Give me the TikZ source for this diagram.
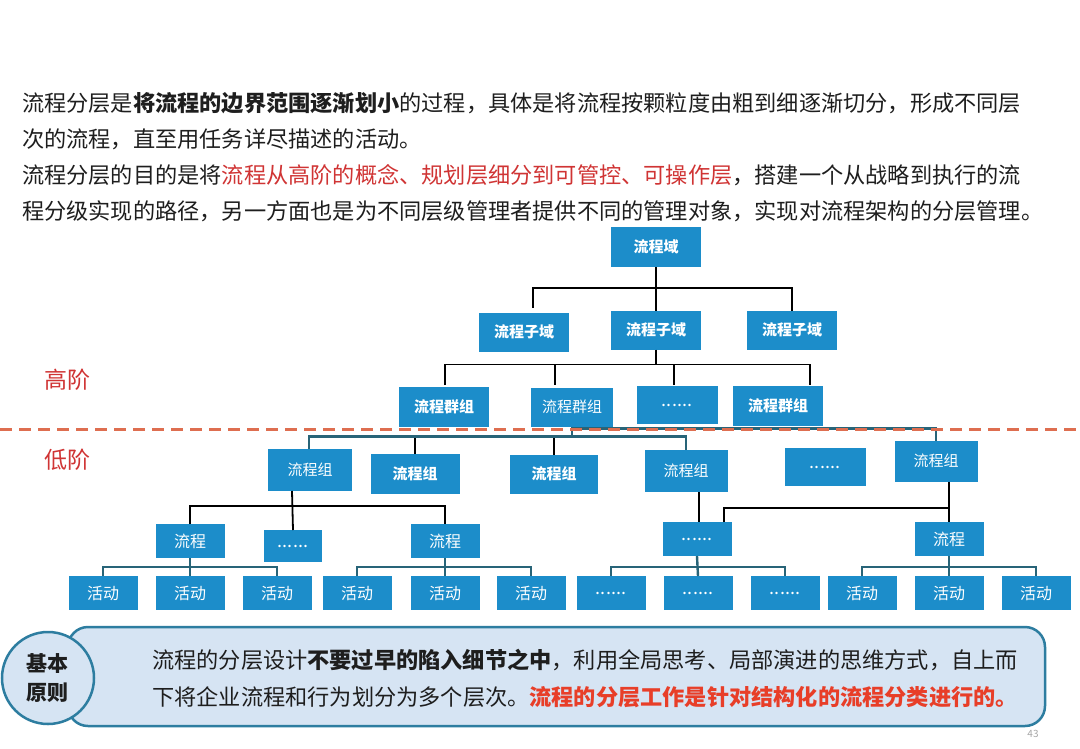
\documentclass[tikz,border=0pt]{standalone}
\usepackage{fontspec}
\setmainfont{Noto Sans CJK SC}
\usetikzlibrary{calc}
\definecolor{boxblue}{RGB}{28,141,202}
\definecolor{txt}{RGB}{30,30,30}
\definecolor{redtxt}{RGB}{208,52,52}
\definecolor{redb}{RGB}{232,62,40}
\definecolor{dashc}{RGB}{222,110,80}
\definecolor{tealc}{RGB}{40,100,120}
\definecolor{panelfill}{RGB}{214,228,243}
\definecolor{panelline}{RGB}{45,125,160}
\newcommand{\myell}{\raisebox{-2pt}{\fontsize{18}{18}\selectfont......}}
\begin{document}
\begin{tikzpicture}[x=1pt,y=-1pt,
  bx/.style 2 args={fill=boxblue,text=white,inner sep=0pt,outer sep=0pt,
     minimum width=#1,minimum height=#2,font=\fontsize{15}{18}\selectfont},
  bxb/.style 2 args={bx={#1}{#2},font=\fontsize{15}{18}\selectfont\bfseries},
  bxs/.style 2 args={bx={#1}{#2},font=\fontsize{16}{18}\selectfont},
  blk/.style={draw=black,line width=1.8pt},
  tl/.style={draw=tealc,line width=2.4pt},
  para/.style={anchor=base west,inner sep=0pt,text=txt,font=\fontsize{22.2}{26}\selectfont},
  lvl/.style={anchor=center,inner sep=0pt,text=redtxt,font=\fontsize{23}{26}\selectfont}]
\useasboundingbox[fill=white] (0,0) rectangle (1080,748);

% top paragraph
\node[para] (t1) at (22,111.5) {流程分层是\textbf{将流程的边界范围逐渐划小}的过程，具体是将流程按颗粒度由粗到细逐渐切分，形成不同层};
\node[para] (t2) at (22,147.5) {次的流程，直至用任务详尽描述的活动。};
\node[para] (t3) at (22,183.5) {流程分层的目的是将\textcolor{redtxt}{流程从高阶的概念、规划层细分到可管控、可操作层}，搭建一个从战略到执行的流};
\node[para] (t4) at (22,219.5) {程分级实现的路径，另一方面也是为不同层级管理者提供不同的管理对象，实现对流程架构的分层管理。};

% level labels
\node[lvl] (hi) at (67,380) {高阶};
\node[lvl] (lo) at (67,460) {低阶};

% tree level 0-2
\node[bxb={90}{40}] (dom) at (656,247) {流程域};
\node[bxb={90}{39}] (sA) at (524,332) {流程子域};
\node[bxb={90}{39}] (sB) at (656,330) {流程子域};
\node[bxb={90}{39}] (sC) at (792,330) {流程子域};
\node[bxb={90}{40}] (g1) at (444,407) {流程群组};
\node[bx={82}{39}] (g2) at (572,407) {流程群组};
\node[bx={81}{38}] (g3) at (677,405) {\myell};
\node[bxb={90}{40}] (g4) at (778,406) {流程群组};

% level 流程组
\node[bx={84}{42}] (pg1) at (310,470) {流程组};
\node[bxb={89}{40}] (pg2) at (415,474) {流程组};
\node[bxb={88}{39}] (pg3) at (554,474) {流程组};
\node[bx={83}{42}] (pg4) at (686,471) {流程组};
\node[bx={81}{38}] (pg5) at (825,467) {\myell};
\node[bx={83}{41}] (pg6) at (936,461) {流程组};

% level 流程
\node[bxs={69}{34}] (p1) at (190,541) {流程};
\node[bx={58}{32}] (pe1) at (293,546) {\myell};
\node[bxs={69}{34}] (p2) at (445,541) {流程};
\node[bx={69}{34}] (pe2) at (697,539) {\myell};
\node[bxs={69}{34}] (p3) at (949,539) {流程};

% activities
\foreach \n/\x/\t in {a1/103/活动,a2/190/活动,a3/277/活动,a4/357/活动,a5/445/活动,a6/531/活动,
  e1/611/\myell,e2/698/\myell,e3/785/\myell,a7/862/活动,a8/949/活动,a9/1036/活动}
  \node[bxs={69}{34}] (\n) at (\x,593) {\t};

% connectors upper
\draw[blk] (dom.south) -- ++(0,21) coordinate (b1);
\draw[blk] ($(sA.north)+(9,-5)$) |- (b1) -| (sC.north);
\draw[blk] (b1) -- (sB.north);
\draw[blk] (sB.south) -- ++(0,15) coordinate (b2);
\draw[blk] ($(g1.north)+(1,-2)$) |- (b2) -| ($(g4.north)+(32,-1)$);
\draw[blk] ($(g2.north)+(-17,-3)$) -- ($(g2.north)+(-17,-23)$);
\draw[blk] ($(g3.north)+(-3,-1)$) -- ($(g3.north)+(-3,-21)$);

% connectors crossing the divide
\draw[tl] (g2.south) -- ++(0,10) coordinate (b3);
\draw[tl] ($(pg1.north)+(-1,0)$) |- (b3) -| (pg4.north);
\draw[blk] (pg2.north) -- ($(pg2.north |- b3)+(0,1)$);
\draw[blk] (pg3.north) -- ($(pg3.north |- b3)+(0,1)$);
\draw[tl] ($(g2.south)+(0,2)$) -| (pg6.north);

% dashed divide
\draw[dashc,line width=3pt,dash pattern=on 12pt off 7pt] (0,429) -- (1080,429);

% 流程组 -> 流程
\draw[blk] ($(pg1.south)+(-18,0)$) -- (pe1.north);
\draw[blk] (p1.north) |- ($(pg1.south)+(0,15)$) -| (p2.north);
\draw[blk] ($(pg4.south)+(13,0)$) -- ($(pe2.north)+(2,0)$);
\draw[blk] ($(pe2.north)+(27,0)$) |- ($(p3.north)+(1,-14)$);
\draw[blk] (pg6.south -| p3.north) -- (p3.north);

% 流程 -> 活动
\foreach \l/\m/\r/\p in {a1/a2/a3/p1,a4/a5/a6/p2,e1/e2/e3/pe2,a7/a8/a9/p3}{
  \draw[tl] (\l.north) -- ++(0,-9) -| (\r.north);
  \draw[tl] (\p.south) -- (\m.north);
}

% bottom panel
\draw[panelline,fill=panelfill,line width=2.5pt,rounded corners=20pt] (68,627) rectangle (1045,726);
\node[circle,draw=panelline,fill=panelfill,line width=2.5pt,minimum size=92pt,inner sep=0pt,
  align=center,text=txt,font=\fontsize{21}{29}\selectfont\bfseries] (circ) at (48,678) {基本\\原则};
\node[para] (b1t) at (152,668.5) {流程的分层设计\textbf{不要过早的陷入细节之中}，利用全局思考、局部演进的思维方式，自上而};
\node[para] (b2t) at (152,705.5) {下将企业流程和行为划分为多个层次。\textcolor{redb}{\bfseries 流程的分层工作是针对结构化的流程分类进行的。}};

\node[text=black!35,font=\fontsize{10}{12}\selectfont,inner sep=0pt] (pg) at (1033,734) {43};
\end{tikzpicture}
\end{document}
